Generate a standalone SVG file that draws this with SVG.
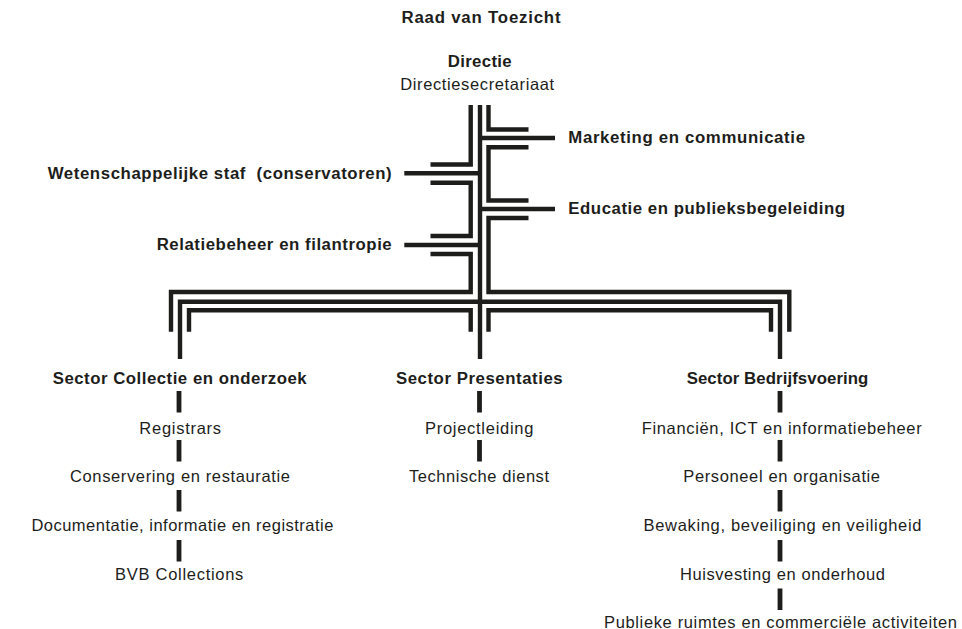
<svg xmlns="http://www.w3.org/2000/svg" width="962" height="629" viewBox="0 0 962 629">
<style>
text{font-family:"Liberation Sans",Arial,sans-serif;font-size:16.8px;fill:#1d1d1b}
.b{font-weight:bold}
.r{font-weight:normal;font-size:16.5px}
.m{text-anchor:middle}
.e{text-anchor:end}
.ln{fill:none;stroke:#1d1d1b;stroke-width:4.4;stroke-linecap:butt;stroke-linejoin:miter}
.bar{fill:none;stroke:#1d1d1b;stroke-width:4.8}
</style>
<rect width="962" height="629" fill="#ffffff"/>
<g id="connectors">
  <path class="ln" d="M470.7,105 V164.5 H430.5"/>
  <path class="ln" d="M430.5,182.7 H470.7 V236 H430.5"/>
  <path class="ln" d="M430.5,254 H470.7 V292 H171 V331.7"/>
  <path class="ln" d="M480,105 V359"/>
  <path class="ln" d="M488.5,105 V129.5 H528.5"/>
  <path class="ln" d="M528.5,147.2 H488.5 V200.5 H528.5"/>
  <path class="ln" d="M528.5,218 H488.5 V292 H789.3 V331.7"/>
  <path class="ln" d="M404.3,173.3 H480"/>
  <path class="ln" d="M404.3,245 H480"/>
  <path class="ln" d="M480,138 H555"/>
  <path class="ln" d="M480,209 H555"/>
  <path class="ln" d="M180,359 V301.7 H780 V359"/>
  <path class="ln" d="M470.7,331.7 V310.3 H189 V331.7"/>
  <path class="ln" d="M488.5,331.7 V310.3 H771 V331.7"/>
  <path class="bar" d="M179,391 V412.5 M179,440 V461.5 M179,490 V511.5 M179,540 V561.5"/>
  <path class="bar" d="M479.5,391 V412.5 M479.5,440 V461.5"/>
  <path class="bar" d="M780,391 V412.5 M780,440 V461.5 M780,490 V511.5 M780,540 V561.5 M780,588.5 V610"/>
</g>
<g id="raad"><text class="b m" x="481" y="23" textLength="159" lengthAdjust="spacing">Raad van Toezicht</text></g>
<g id="directie">
  <text class="b m" x="479.7" y="67" textLength="64" lengthAdjust="spacing">Directie</text>
  <text class="r m" x="477.2" y="90" textLength="154" lengthAdjust="spacing">Directiesecretariaat</text>
</g>
<g id="marketing"><text class="b" x="568.3" y="142.5" textLength="236.7" lengthAdjust="spacing">Marketing en communicatie</text></g>
<g id="educatie"><text class="b" x="568.3" y="213.5" textLength="276.7" lengthAdjust="spacing">Educatie en publieksbegeleiding</text></g>
<g id="wetenschap"><text class="b e" x="391.7" y="179" textLength="344" lengthAdjust="spacing" xml:space="preserve">Wetenschappelijke staf  (conservatoren)</text></g>
<g id="relatiebeheer"><text class="b e" x="391.7" y="250" textLength="235" lengthAdjust="spacing">Relatiebeheer en filantropie</text></g>
<g id="sector-collectie"><text class="b m" x="179.7" y="384" textLength="254" lengthAdjust="spacing">Sector Collectie en onderzoek</text></g>
<g id="sector-presentaties"><text class="b m" x="479.3" y="384" textLength="166.7" lengthAdjust="spacing">Sector Presentaties</text></g>
<g id="sector-bedrijfsvoering"><text class="b m" x="777.5" y="384" textLength="181.7" lengthAdjust="spacing">Sector Bedrijfsvoering</text></g>
<g id="registrars"><text class="r m" x="180.2" y="433.5" textLength="81.7" lengthAdjust="spacing">Registrars</text></g>
<g id="conservering"><text class="r m" x="180" y="482" textLength="220" lengthAdjust="spacing">Conservering en restauratie</text></g>
<g id="documentatie"><text class="r m" x="182.4" y="531" textLength="302" lengthAdjust="spacing">Documentatie, informatie en registratie</text></g>
<g id="bvb"><text class="r m" x="179.2" y="580" textLength="128.3" lengthAdjust="spacing">BVB Collections</text></g>
<g id="projectleiding"><text class="r m" x="479.2" y="433.5" textLength="108.3" lengthAdjust="spacing">Projectleiding</text></g>
<g id="technische"><text class="r m" x="479" y="482" textLength="140" lengthAdjust="spacing">Technische dienst</text></g>
<g id="financien"><text class="r m" x="781.7" y="433.5" textLength="280" lengthAdjust="spacing">Financiën, ICT en informatiebeheer</text></g>
<g id="personeel"><text class="r m" x="781.7" y="482" textLength="196.7" lengthAdjust="spacing">Personeel en organisatie</text></g>
<g id="bewaking"><text class="r m" x="782.5" y="531" textLength="278" lengthAdjust="spacing">Bewaking, beveiliging en veiligheid</text></g>
<g id="huisvesting"><text class="r m" x="782.5" y="580" textLength="205" lengthAdjust="spacing">Huisvesting en onderhoud</text></g>
<g id="publieke"><text class="r m" x="780.5" y="627.5" textLength="353" lengthAdjust="spacing">Publieke ruimtes en commerciële activiteiten</text></g>
</svg>
